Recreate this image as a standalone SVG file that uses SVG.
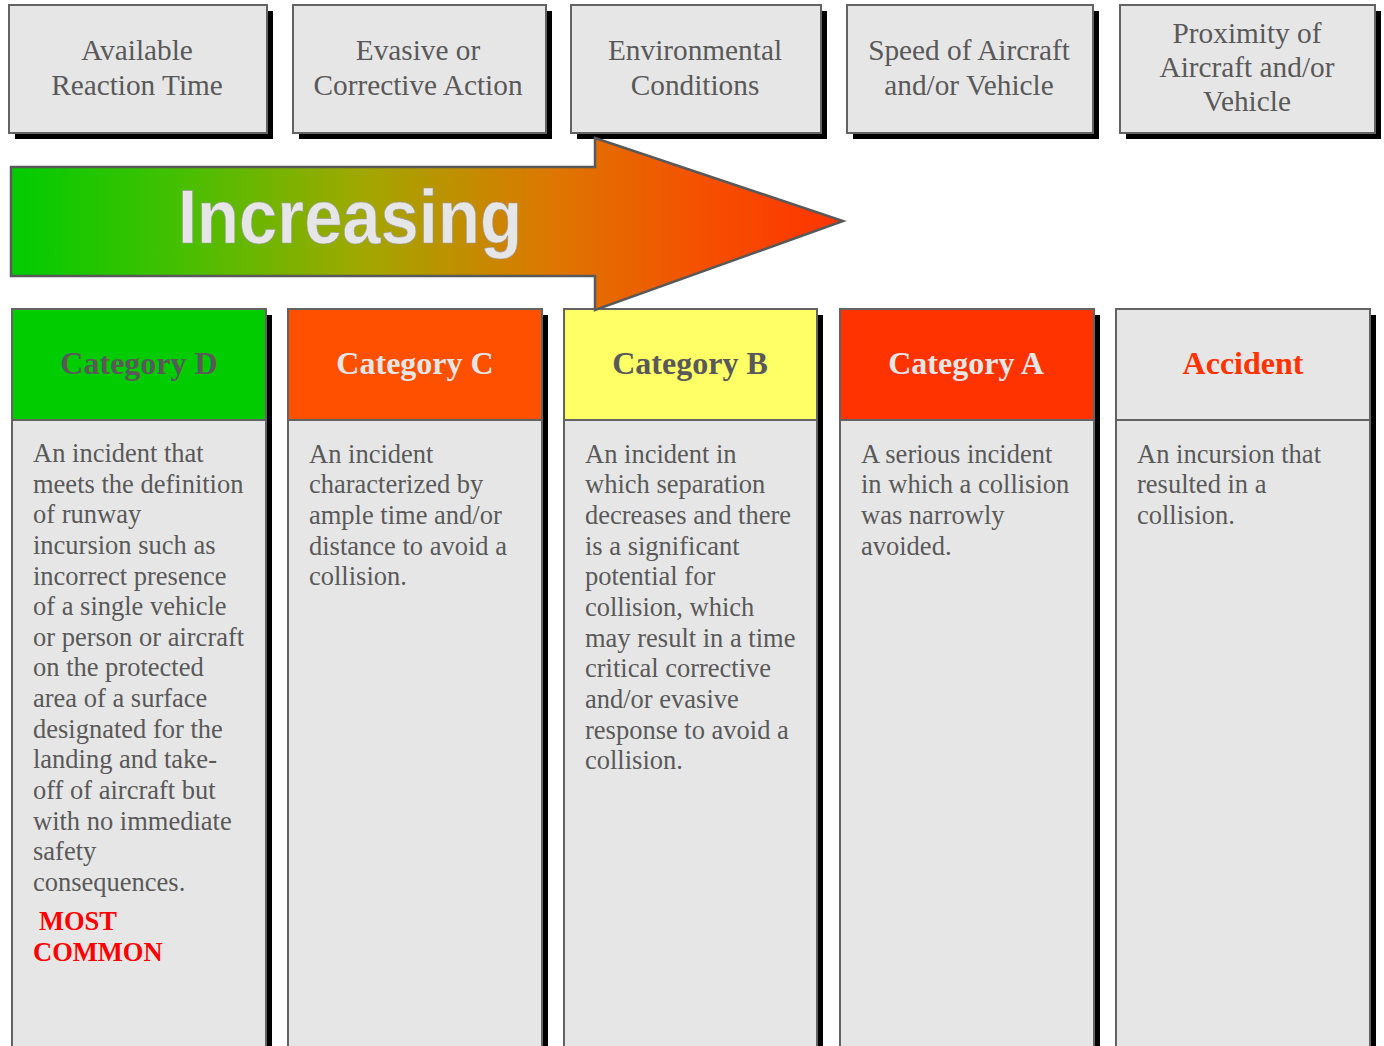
<svg xmlns="http://www.w3.org/2000/svg" width="1384" height="1046" viewBox="0 0 1384 1046">
<defs>
<linearGradient id="grad" x1="11" y1="0" x2="843" y2="0" gradientUnits="userSpaceOnUse">
<stop offset="0" stop-color="#00cc00"/>
<stop offset="0.2" stop-color="#44c000"/>
<stop offset="0.42" stop-color="#a0a800"/>
<stop offset="0.65" stop-color="#dd7700"/>
<stop offset="0.83" stop-color="#f55000"/>
<stop offset="1" stop-color="#ff3300"/>
</linearGradient>
<style>
.box{fill:#e6e6e6;stroke:#636363;stroke-width:2}
.shadow{fill:#000}
.top{font-family:"Liberation Serif","Times New Roman",serif;font-size:29.3px;fill:#595959;text-anchor:middle}
.head{font-family:"Liberation Serif","Times New Roman",serif;font-size:32px;font-weight:bold;text-anchor:middle}
.body{font-family:"Liberation Serif","Times New Roman",serif;font-size:26.5px;fill:#595959}
.red{font-family:"Liberation Serif","Times New Roman",serif;font-size:26.5px;font-weight:bold;fill:#ff0000}
</style>
</defs>
<rect width="1384" height="1046" fill="#ffffff"/>

<g id="factor-reaction-time">
<rect class="shadow" x="15" y="11" width="258" height="128"/>
<rect class="box" x="9" y="5" width="258" height="128"/>
<text class="top" x="137" y="60">Available</text>
<text class="top" x="137" y="95">Reaction Time</text>
</g>
<g id="factor-evasive-action">
<rect class="shadow" x="299" y="11" width="253" height="128"/>
<rect class="box" x="293" y="5" width="253" height="128"/>
<text class="top" x="418" y="60">Evasive or</text>
<text class="top" x="418" y="95">Corrective Action</text>
</g>
<g id="factor-environmental">
<rect class="shadow" x="577" y="11" width="250" height="128"/>
<rect class="box" x="571" y="5" width="250" height="128"/>
<text class="top" x="695" y="60">Environmental</text>
<text class="top" x="695" y="95">Conditions</text>
</g>
<g id="factor-speed">
<rect class="shadow" x="853" y="11" width="246" height="128"/>
<rect class="box" x="847" y="5" width="246" height="128"/>
<text class="top" x="969" y="60">Speed of Aircraft</text>
<text class="top" x="969" y="95">and/or Vehicle</text>
</g>
<g id="factor-proximity">
<rect class="shadow" x="1126" y="11" width="255" height="128"/>
<rect class="box" x="1120" y="5" width="255" height="128"/>
<text class="top" x="1247" y="43">Proximity of</text>
<text class="top" x="1247" y="77">Aircraft and/or</text>
<text class="top" x="1247" y="111">Vehicle</text>
</g>

<g id="category-d">
<rect class="shadow" x="18" y="315" width="254" height="740"/>
<rect x="12" y="309" width="254" height="111" fill="#00cc00" stroke="#636363" stroke-width="2"/>
<rect class="box" x="12" y="420" width="254" height="630"/>
<text class="head" x="139" y="374" fill="#595959">Category D</text>
<text class="body" x="33" y="462">An incident that</text>
<text class="body" x="33" y="493">meets the definition</text>
<text class="body" x="33" y="523">of runway</text>
<text class="body" x="33" y="554">incursion such as</text>
<text class="body" x="33" y="585">incorrect presence</text>
<text class="body" x="33" y="615">of a single vehicle</text>
<text class="body" x="33" y="646">or person or aircraft</text>
<text class="body" x="33" y="676">on the protected</text>
<text class="body" x="33" y="707">area of a surface</text>
<text class="body" x="33" y="738">designated for the</text>
<text class="body" x="33" y="768">landing and take-</text>
<text class="body" x="33" y="799">off of aircraft but</text>
<text class="body" x="33" y="830">with no immediate</text>
<text class="body" x="33" y="860">safety</text>
<text class="body" x="33" y="891">consequences.</text>
<text class="red" x="39" y="930">MOST</text>
<text class="red" x="33" y="961">COMMON</text>
</g>

<g id="category-c">
<rect class="shadow" x="294" y="315" width="254" height="740"/>
<rect x="288" y="309" width="254" height="111" fill="#ff5000" stroke="#636363" stroke-width="2"/>
<rect class="box" x="288" y="420" width="254" height="630"/>
<text class="head" x="415" y="374" fill="#e6e6e6">Category C</text>
<text class="body" x="309" y="463">An incident</text>
<text class="body" x="309" y="493">characterized by</text>
<text class="body" x="309" y="524">ample time and/or</text>
<text class="body" x="309" y="555">distance to avoid a</text>
<text class="body" x="309" y="585">collision.</text>
</g>

<g id="category-b">
<rect class="shadow" x="570" y="315" width="253" height="740"/>
<rect x="564" y="309" width="253" height="111" fill="#ffff66" stroke="#636363" stroke-width="2"/>
<rect class="box" x="564" y="420" width="253" height="630"/>
<text class="head" x="690" y="374" fill="#595959">Category B</text>
<text class="body" x="585" y="463">An incident in</text>
<text class="body" x="585" y="493">which separation</text>
<text class="body" x="585" y="524">decreases and there</text>
<text class="body" x="585" y="555">is a significant</text>
<text class="body" x="585" y="585">potential for</text>
<text class="body" x="585" y="616">collision, which</text>
<text class="body" x="585" y="647">may result in a time</text>
<text class="body" x="585" y="677">critical corrective</text>
<text class="body" x="585" y="708">and/or evasive</text>
<text class="body" x="585" y="739">response to avoid a</text>
<text class="body" x="585" y="769">collision.</text>
</g>

<g id="category-a">
<rect class="shadow" x="846" y="315" width="254" height="740"/>
<rect x="840" y="309" width="254" height="111" fill="#ff3300" stroke="#636363" stroke-width="2"/>
<rect class="box" x="840" y="420" width="254" height="630"/>
<text class="head" x="966" y="374" fill="#e6e6e6">Category A</text>
<text class="body" x="861" y="463">A serious incident</text>
<text class="body" x="861" y="493">in which a collision</text>
<text class="body" x="861" y="524">was narrowly</text>
<text class="body" x="861" y="555">avoided.</text>
</g>

<g id="accident">
<rect class="shadow" x="1122" y="315" width="254" height="740"/>
<rect class="box" x="1116" y="309" width="254" height="111"/>
<rect class="box" x="1116" y="420" width="254" height="630"/>
<text class="head" x="1243" y="374" fill="#ff3300">Accident</text>
<text class="body" x="1137" y="463">An incursion that</text>
<text class="body" x="1137" y="493">resulted in a</text>
<text class="body" x="1137" y="524">collision.</text>
</g>

<g id="increasing-arrow">
<path d="M11,167 L595,167 L595,138 L843,221 L595,310 L595,276 L11,276 Z" fill="url(#grad)" stroke="#595959" stroke-width="2.5" stroke-linejoin="miter"/>
<text x="350" y="243" font-family="'Liberation Sans',Arial,sans-serif" font-size="76" font-weight="bold" fill="#e6e6e6" stroke="#9a9a9a" stroke-width="0.6" text-anchor="middle" textLength="344" lengthAdjust="spacingAndGlyphs">Increasing</text>
</g>
<g id="connectors"/>
</svg>
